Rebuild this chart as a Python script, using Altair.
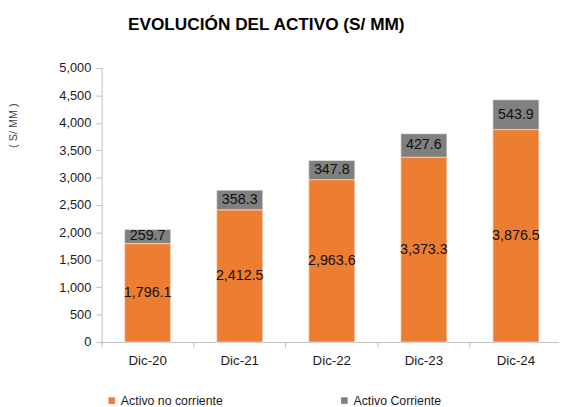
import altair as alt
import pandas as pd

years = ["Dic-20", "Dic-21", "Dic-22", "Dic-23", "Dic-24"]
no_corriente = [1796.1, 2412.5, 2963.6, 3373.3, 3876.5]
corriente = [259.7, 358.3, 347.8, 427.6, 543.9]
series = ["Activo no corriente", "Activo Corriente"]
colors = ["#ED7D31", "#808080"]
y_ticks = list(range(0, 5001, 500))

rows = []
for i, y in enumerate(years):
    rows.append({"year": y, "serie": series[0], "ord": 0, "value": no_corriente[i]})
    rows.append({"year": y, "serie": series[1], "ord": 1, "value": corriente[i]})
df = pd.DataFrame(rows)

FONT = "Liberation Sans"

base = alt.Chart(df).transform_stack(
    stack="value", groupby=["year"], as_=["y0", "y1"], sort=[alt.SortField("ord")]
).transform_calculate(mid="(datum.y0 + datum.y1) / 2")

xscale = alt.Scale(range=[0, 467], paddingInner=0, paddingOuter=0)
yscale = alt.Scale(domain=[0, 5000], nice=False)

xaxis = alt.Axis(
    labelAngle=0, labelFont=FONT, labelFontSize=13.5, labelColor="#1a1a1a",
    labelPadding=7, domainColor="#bfbfbf", tickColor="#bfbfbf", tickSize=5,
    bandPosition=0, ticks=True,
)
yaxis = alt.Axis(
    values=y_ticks, format=",.0f", labelOverlap=False, labelFont=FONT,
    labelFontSize=13, labelColor="#1a1a1a", labelPadding=5,
    domainColor="#bfbfbf", tickColor="#bfbfbf", tickSize=6, grid=False,
    title="( S/ MM )", titleFont=FONT, titleFontSize=11,
    titleFontWeight="normal", titleColor="#404040", titleAngle=-90,
    titleX=-89, titleY=58, titleAlign="center", titleBaseline="middle",
)

bars = base.mark_bar(width=alt.RelativeBandSize(0.5), stroke="#f2f2f2", strokeWidth=0.6).encode(
    x=alt.X("year:N", sort=years, title=None, scale=xscale, axis=xaxis),
    y=alt.Y("y0:Q", scale=yscale, axis=yaxis, title="( S/ MM )"),
    y2="y1:Q",
    color=alt.Color(
        "serie:N",
        scale=alt.Scale(domain=series, range=colors),
        legend=alt.Legend(
            title=None, orient="none", direction="horizontal",
            legendX=4, legendY=331, symbolType="square", symbolSize=45,
            symbolStrokeWidth=0, labelFont=FONT, labelFontSize=12.5,
            labelColor="#1a1a1a", columnPadding=116, labelOffset=3,
        ),
    ),
)

labels = base.mark_text(font=FONT, fontSize=14.5, color="#111111", baseline="middle").encode(
    x=alt.X("year:N", sort=years, title=None, scale=xscale, axis=xaxis),
    y=alt.Y("mid:Q", scale=yscale, axis=yaxis, title="( S/ MM )"),
    text=alt.Text("value:Q", format=",.1f"),
)

chart = alt.layer(bars, labels).properties(
    width=464,
    height=278,
    padding={"left": 95, "top": 58, "right": 0, "bottom": 64},
    autosize=alt.AutoSizeParams(type="none"),
    title=alt.Title(
        "EVOLUCIÓN DEL ACTIVO (S/ MM)", font=FONT, fontSize=17.5, fontWeight="bold",
        color="#000000", anchor="middle", dx=-65, offset=29,
    ),
).configure_view(stroke=None)

chart.save("out.html", embed_options={"renderer": "svg", "actions": False})
